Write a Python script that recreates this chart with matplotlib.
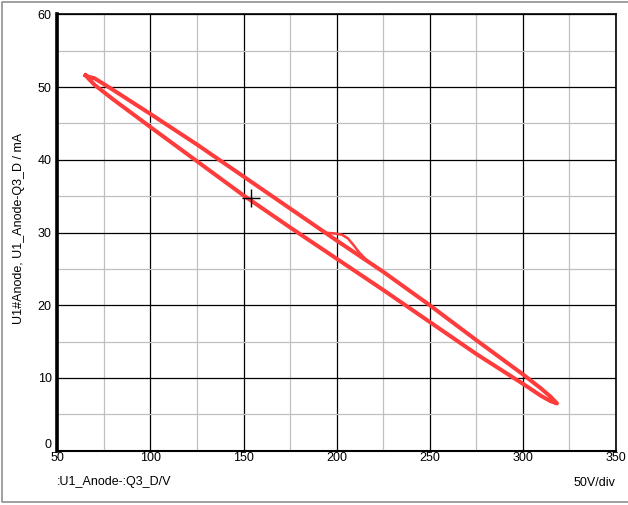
from matplotlib import pyplot as plt
from matplotlib.lines import Line2D

# Datos de la curva (tension en V, corriente en mA)
upper_x = [65.2, 67, 70, 80, 100, 125, 150, 175, 200, 225, 250, 275, 300,
           310, 315, 318.3]
upper_y = [51.6, 51.4, 51.2, 49.6, 46.3, 42.1, 37.7, 33.3, 28.9, 24.6, 20.0,
           15.2, 10.5, 8.5, 7.4, 6.5]
lower_x = [318.3, 315, 310, 300, 275, 250, 225, 200, 175, 150, 125, 100, 80,
           70, 67, 65.2]
lower_y = [6.5, 6.8, 7.5, 9.2, 13.3, 17.7, 22.1, 26.4, 30.7, 35.1, 39.8, 44.5,
           48.3, 50.3, 51.1, 51.6]
# Pequeña desviacion del primer ciclo
bump_x = [194.5, 198, 202.8, 206, 209, 212, 216]
bump_y = [29.95, 29.9, 29.7, 29.2, 28.3, 27.3, 26.2]
cursor = (153.8, 34.7)

x_ticks = [50, 100, 150, 200, 250, 300, 350]
y_ticks = [0, 10, 20, 30, 40, 50, 60]
x_minor = [75, 125, 175, 225, 275, 325]
y_minor = [5, 15, 25, 35, 45, 55]

plt.rcParams['font.family'] = ['Liberation Sans', 'DejaVu Sans']

fig = plt.figure(figsize=(6.28, 5.05), dpi=100)
ax = fig.add_axes([0.0912, 0.1075, 0.8897, 0.8642])
ax.set_xlim(50, 350)
ax.set_ylim(0, 60)
ax.set_xticks(x_ticks)
ax.set_yticks(y_ticks)
ax.set_xticks(x_minor, minor=True)
ax.set_yticks(y_minor, minor=True)
ax.grid(which='major', color='black', lw=0.9)
ax.grid(which='minor', color='#c0c0c0', lw=0.9)
ax.set_axisbelow(True)
ax.tick_params(which='both', length=0, labelsize=9)
ax.tick_params(axis='x', pad=1)
ax.tick_params(axis='y', pad=4)
ax.yaxis.get_major_ticks()[0].label1.set_verticalalignment('bottom')

for side in ['top', 'right']:
    ax.spines[side].set_linewidth(1.2)
ax.spines['bottom'].set_linewidth(1.5)
ax.spines['left'].set_linewidth(2.6)

red = '#ff3c3c'
ax.plot(upper_x + lower_x, upper_y + lower_y, color=red, lw=2.9,
        solid_joinstyle='round')
ax.plot(bump_x, bump_y, color=red, lw=1.8)
ax.plot(*cursor, marker='+', ms=12.5, mew=1, color='black')

# Textos de los ejes
fig.text(0.0303, 0.5475, 'U1#Anode, U1_Anode-Q3_D / mA', rotation=90,
         ha='center', va='center', fontsize=9)
fig.text(57.3 / 628, 1 - 482.5 / 505, ':U1_Anode-:Q3_D/V', ha='left',
         va='center', fontsize=9)
fig.text(615 / 628, 1 - 482.5 / 505, '50V/div', ha='right', va='center',
         fontsize=9)

# Marco gris de la ventana
fig.add_artist(Line2D([1, 0.0027, 0.0027, 1], [0.9966, 0.9966, 0.0069, 0.0069],
                      color='#909090', lw=1.2))

plt.savefig('out.png', dpi=100)
